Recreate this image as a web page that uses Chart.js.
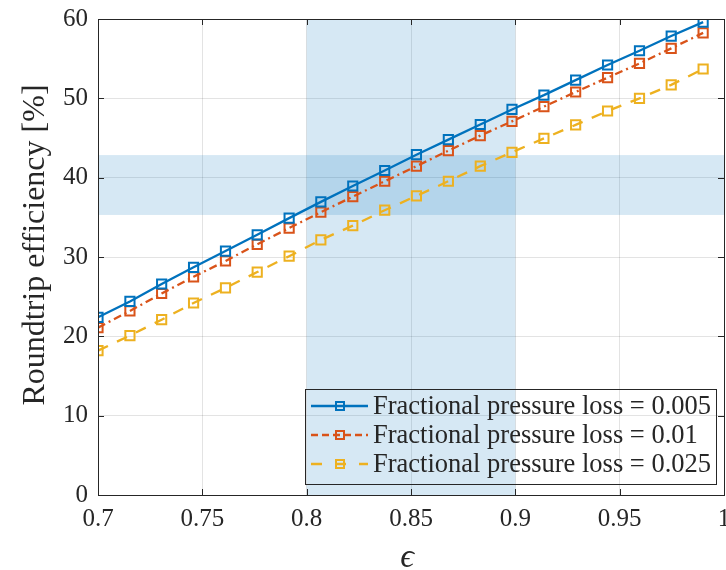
<!DOCTYPE html>
<html>
<head>
<meta charset="utf-8">
<script src="https://cdn.jsdelivr.net/npm/chart.js@4.4.1/dist/chart.umd.min.js"></script>
<style>
html, body { margin: 0; padding: 0; background: #fff; }
</style>
</head>
<body>
<canvas id="canvas" width="726" height="570"></canvas>
<script>
// epsilon values (linspace 0.7 .. 0.99, 20 points)
var epsilon = [0.7, 0.7153, 0.7305, 0.7458, 0.7611, 0.7763, 0.7916, 0.8068, 0.8221, 0.8374,
               0.8526, 0.8679, 0.8832, 0.8984, 0.9137, 0.9289, 0.9442, 0.9595, 0.9747, 0.99];

var lossLabels = [
    "Fractional pressure loss = 0.005",
    "Fractional pressure loss = 0.01",
    "Fractional pressure loss = 0.025"
];

var eff005 = [22.4, 24.4, 26.6, 28.7, 30.75, 32.8, 34.9, 36.95, 38.95, 40.9,
              42.9, 44.8, 46.7, 48.6, 50.4, 52.3, 54.2, 56.0, 57.85, 59.6];
var eff010 = [21.1, 23.2, 25.4, 27.5, 29.5, 31.6, 33.65, 35.65, 37.6, 39.55,
              41.45, 43.4, 45.3, 47.1, 48.95, 50.8, 52.6, 54.4, 56.3, 58.25];
var eff025 = [18.2, 20.1, 22.1, 24.2, 26.1, 28.1, 30.1, 32.15, 33.95, 35.9,
              37.7, 39.55, 41.45, 43.2, 44.95, 46.65, 48.4, 50.0, 51.7, 53.7];

var xTicks = [0.7, 0.75, 0.8, 0.85, 0.9, 0.95, 1];
var yTicks = [0, 10, 20, 30, 40, 50, 60];

// shaded bands
var bandX = [0.8, 0.9];
var bandY = [35.3, 42.85];

var serif = "'Liberation Serif', 'Times New Roman', serif";
var ink = '#262626';

function pts(vals) {
    return vals.map(function (v, i) { return { x: epsilon[i], y: v }; });
}

function series(label, vals, color, dash) {
    return {
        label: label,
        data: pts(vals),
        borderColor: color,
        borderWidth: 2.3,
        borderDash: dash,
        pointStyle: 'rect',
        pointRadius: 6.5,
        pointHoverRadius: 6.5,
        pointBorderWidth: 2,
        pointBorderColor: color,
        pointBackgroundColor: 'rgba(0,0,0,0)',
        fill: false,
        tension: 0
    };
}

var shading = {
    id: 'shading',
    beforeDatasetsDraw: function (chart) {
        var ctx = chart.ctx, a = chart.chartArea;
        var sx = chart.scales.x, sy = chart.scales.y;
        var x0 = sx.getPixelForValue(bandX[0]), x1 = sx.getPixelForValue(bandX[1]);
        var y0 = sy.getPixelForValue(bandY[1]), y1 = sy.getPixelForValue(bandY[0]);
        ctx.save();
        ctx.fillStyle = 'rgba(0,114,189,0.16)';
        ctx.fillRect(x0, a.top, x1 - x0, a.bottom - a.top);
        ctx.fillRect(a.left, y0, a.right - a.left, y1 - y0);
        ctx.restore();
    }
};

var axesBox = {
    id: 'axesBox',
    afterDatasetsDraw: function (chart) {
        var ctx = chart.ctx, a = chart.chartArea;
        var sx = chart.scales.x, sy = chart.scales.y;
        ctx.save();
        ctx.strokeStyle = ink;
        ctx.lineWidth = 1;
        ctx.beginPath();
        xTicks.forEach(function (t) {
            var p = Math.round(sx.getPixelForValue(t)) + 0.5;
            ctx.moveTo(p, a.bottom); ctx.lineTo(p, a.bottom - 6);
            ctx.moveTo(p, a.top); ctx.lineTo(p, a.top + 6);
        });
        yTicks.forEach(function (t) {
            var p = Math.round(sy.getPixelForValue(t)) + 0.5;
            ctx.moveTo(a.left, p); ctx.lineTo(a.left + 6, p);
            ctx.moveTo(a.right, p); ctx.lineTo(a.right - 6, p);
        });
        ctx.stroke();
        ctx.strokeRect(Math.round(a.left) + 0.5, Math.round(a.top) + 0.5,
                       Math.round(a.right - a.left), Math.round(a.bottom - a.top));
        ctx.restore();
    }
};

var legendBox = {
    id: 'legendBox',
    afterDraw: function (chart) {
        var ctx = chart.ctx, a = chart.chartArea;
        var w = 411, h = 95;
        var left = Math.round(a.right - 8.5 - w), top = Math.round(a.bottom - 11 - h);
        ctx.save();
        ctx.strokeStyle = ink;
        ctx.lineWidth = 1;
        ctx.strokeRect(left + 0.5, top + 0.5, w, h);
        chart.data.datasets.forEach(function (ds, i) {
            var yy = top + 17 + i * 29;
            ctx.strokeStyle = ds.borderColor;
            ctx.lineWidth = ds.borderWidth;
            ctx.setLineDash(ds.legendDash);
            ctx.beginPath();
            ctx.moveTo(left + 6, yy);
            ctx.lineTo(left + 63, yy);
            ctx.stroke();
            ctx.setLineDash([]);
            ctx.lineWidth = 2;
            ctx.strokeRect(left + 35 - 4, yy - 4, 8, 8);
            ctx.fillStyle = ink;
            ctx.font = "26.5px " + serif;
            ctx.textBaseline = 'middle';
            ctx.textAlign = 'left';
            ctx.fillText(ds.label, left + 68, yy + 1);
        });
        ctx.restore();
    }
};

var titles = {
    id: 'titles',
    afterDraw: function (chart) {
        var ctx = chart.ctx, a = chart.chartArea;
        ctx.save();
        ctx.fillStyle = ink;
        ctx.textAlign = 'center';
        ctx.textBaseline = 'middle';
        ctx.font = "italic 34px " + serif;
        ctx.fillText("\u03F5", (a.left + a.right) / 2 - 4, 558);
        ctx.translate(36, 245);
        ctx.rotate(-Math.PI / 2);
        ctx.font = "32px " + serif;
        ctx.fillText("Roundtrip efficiency [%]", 0, 0);
        ctx.restore();
    }
};

var datasets = [
    series(lossLabels[0], eff005, '#0072BD', []),
    series(lossLabels[1], eff010, '#D95319', [8, 4, 2, 4]),
    series(lossLabels[2], eff025, '#EDB120', [11, 10])
];
datasets[0].legendDash = [];
datasets[1].legendDash = [7, 4];
datasets[2].legendDash = [11, 13];

var config = {
    type: 'line',
    data: { datasets: datasets },
    plugins: [shading, axesBox, legendBox, titles],
    options: {
        responsive: false,
        animation: false,
        layout: { autoPadding: false, padding: { top: 19, right: 2, left: 0, bottom: 0 } },
        plugins: {
            legend: { display: false },
            tooltip: { enabled: false }
        },
        scales: {
            x: {
                type: 'linear',
                min: 0.7,
                max: 1,
                afterBuildTicks: function (scale) {
                    scale.ticks = xTicks.map(function (v) { return { value: v }; });
                },
                afterFit: function (scale) {
                    scale.height = 75;
                    scale.paddingLeft = 0;
                    scale.paddingRight = 0;
                },
                ticks: {
                    color: ink,
                    padding: 9,
                    maxRotation: 0,
                    font: { family: serif, size: 25 },
                    callback: function (v) { return String(+v.toFixed(2)); }
                },
                grid: { color: 'rgba(38,38,38,0.13)', drawTicks: false, lineWidth: 1 },
                border: { display: false }
            },
            y: {
                type: 'linear',
                min: 0,
                max: 60,
                afterBuildTicks: function (scale) {
                    scale.ticks = yTicks.map(function (v) { return { value: v }; });
                },
                afterFit: function (scale) {
                    scale.width = 98;
                    scale.paddingTop = 0;
                    scale.paddingBottom = 0;
                },
                ticks: {
                    color: ink,
                    padding: 10,
                    font: { family: serif, size: 25 }
                },
                grid: { color: 'rgba(38,38,38,0.13)', drawTicks: false, lineWidth: 1 },
                border: { display: false }
            }
        }
    }
};

window.myChart = new Chart(document.getElementById("canvas"), config);
</script>
</body>
</html>
